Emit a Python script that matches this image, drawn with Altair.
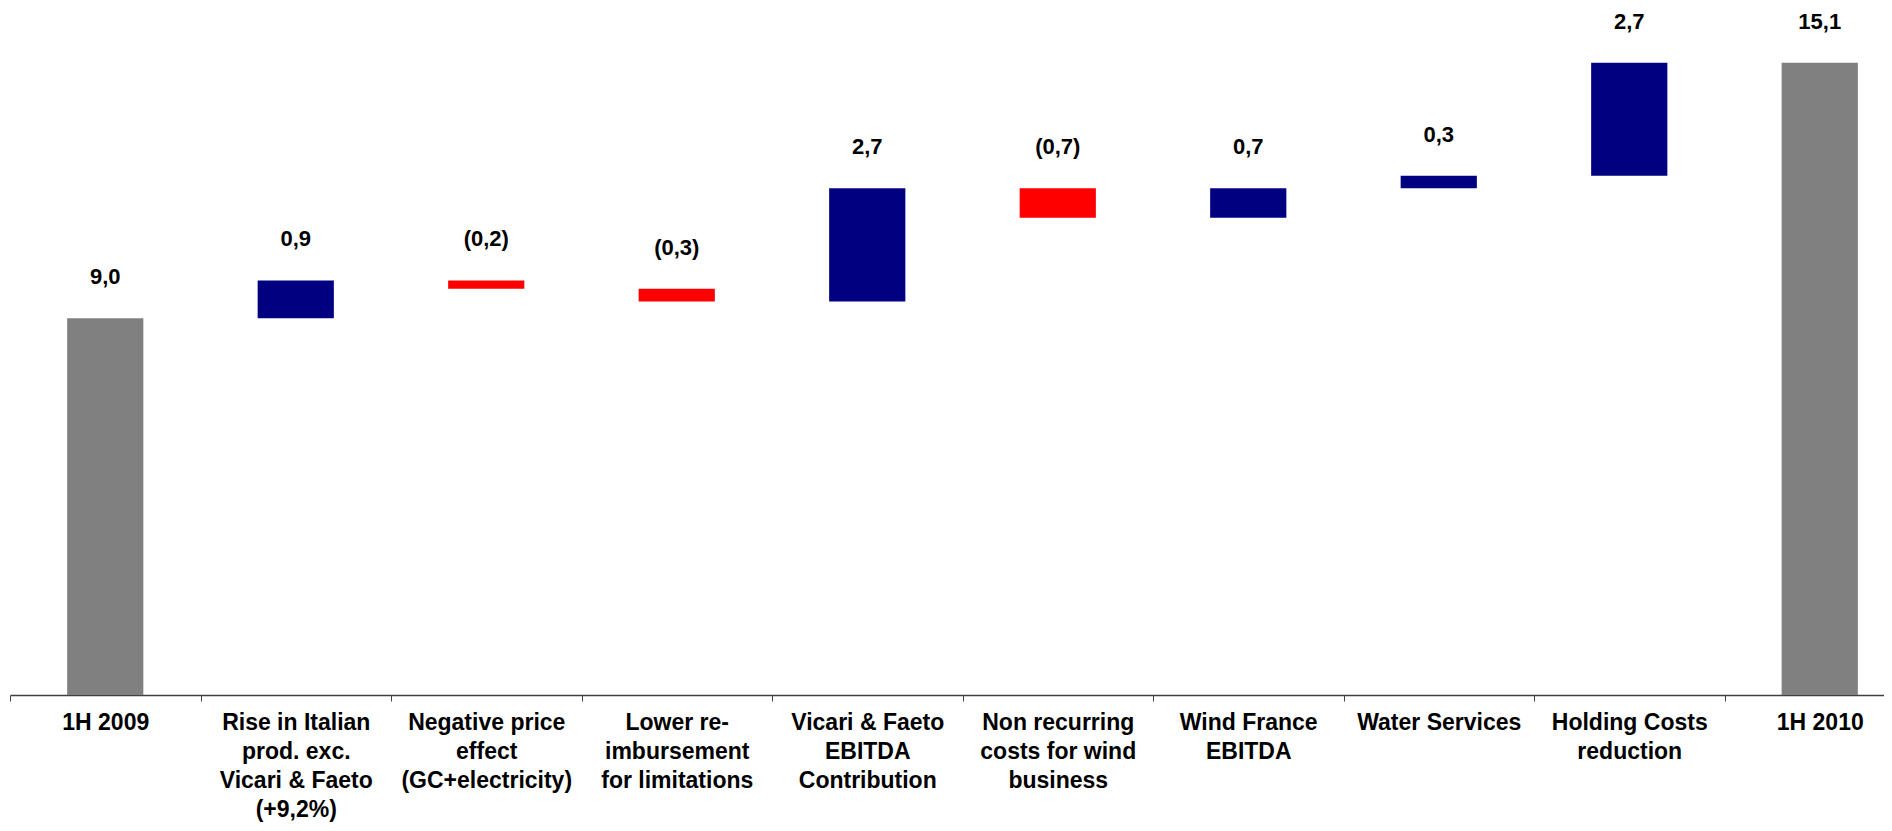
import altair as alt
import pandas as pd

categories = [
    "1H 2009",
    "Rise in Italian|prod. exc.|Vicari & Faeto|(+9,2%)",
    "Negative price|effect|(GC+electricity)",
    "Lower re-|imbursement|for limitations",
    "Vicari & Faeto|EBITDA|Contribution",
    "Non recurring|costs for wind|business",
    "Wind France|EBITDA",
    "Water Services",
    "Holding Costs|reduction",
    "1H 2010",
]
values = [9.0, 0.9, -0.2, -0.3, 2.7, -0.7, 0.7, 0.3, 2.7, 15.1]
is_total = [True, False, False, False, False, False, False, False, False, True]

rows = []
running = 0.0
for cat, v, tot in zip(categories, values, is_total):
    if tot:
        start, end = 0.0, v
        running = v
        kind = "total"
    else:
        start, end = running, running + v
        running = end
        kind = "up" if v >= 0 else "down"
    txt = f"{abs(v):.1f}".replace(".", ",")
    if v < 0:
        txt = f"({txt})"
    rows.append({"cat": cat, "start": start, "end": end,
                 "top": max(start, end), "kind": kind, "label": txt})
df = pd.DataFrame(rows)

FONT = "Liberation Sans"

xscale = alt.Scale(range=[0, 1905], paddingInner=0, paddingOuter=0)

bars = alt.Chart(df).mark_bar(width=alt.RelativeBandSize(0.4)).encode(
    x=alt.X("cat:N", sort=categories, scale=xscale, title=None,
            axis=alt.Axis(labelExpr="split(datum.label, '|')", labelAngle=0,
                          labelAlign="center", labelBaseline="top",
                          labelFont=FONT, labelFontSize=23, labelFontWeight="bold",
                          labelColor="black", labelLineHeight=29, labelLimit=0,
                          labelPadding=10, labelOverlap=False,
                          tickBand="extent", tickSize=6, tickColor="#404040",
                          domainColor="#404040", domainWidth=1.5, grid=False)),
    y=alt.Y("start:Q", scale=alt.Scale(domain=[0, 16], nice=False), axis=None),
    y2="end:Q",
    color=alt.Color("kind:N", scale=alt.Scale(domain=["total", "up", "down"],
                                              range=["#808080", "#000080", "#FF0000"]),
                    legend=None),
)

text = alt.Chart(df).mark_text(dy=-41, fontSize=22, fontWeight="bold", font=FONT,
                               baseline="middle", align="center", color="black").encode(
    x=alt.X("cat:N", sort=categories),
    y=alt.Y("top:Q"),
    text="label:N",
)

chart = alt.layer(bars, text).properties(
    width=1874, height=670,
    autosize=alt.AutoSizeParams(type="none"),
    padding={"left": 2, "top": 17, "right": 0, "bottom": 127},
).configure_view(stroke=None)

chart.save("out.html", embed_options={"renderer": "svg", "actions": False})
